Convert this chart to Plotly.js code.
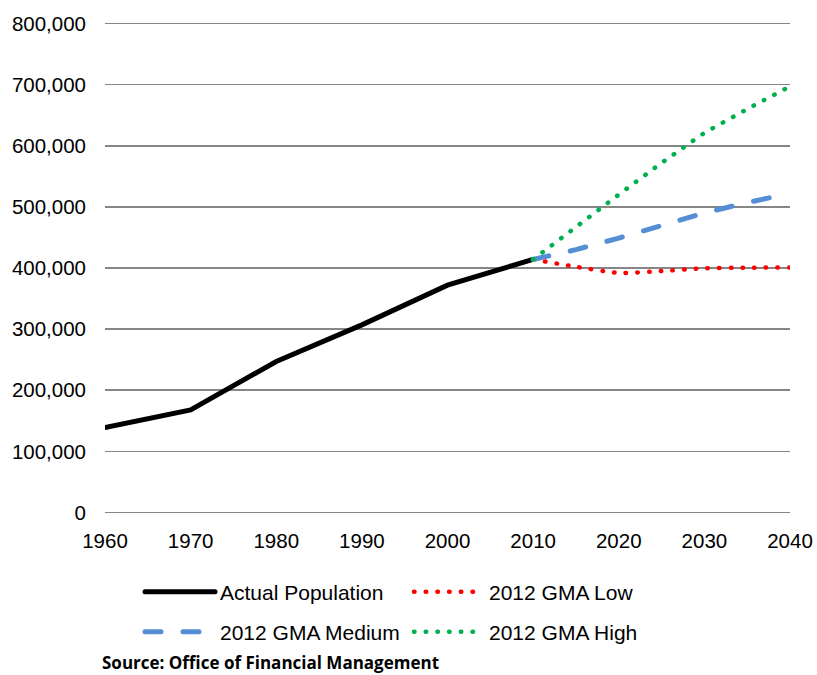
<!DOCTYPE html>
<html>
<head>
<meta charset="utf-8">
<script src="https://cdn.plot.ly/plotly-3.0.1.min.js"></script>
<style>
body { margin: 0; padding: 0; background: #fff; }
#chart { width: 817px; height: 675px; }
.js-line { stroke-linecap: round; }
</style>
</head>
<body>
<div id="chart"></div>
<script>
// Data
var actualYears = [1960, 1970, 1980, 1990, 2000, 2010];
var actualPop = [139000, 168000, 247000, 307000, 372000, 414000];

var projYears = [2010, 2015, 2020, 2025, 2030, 2035, 2040];
var gmaLow = [414000, 402000, 392000, 395000, 399500, 400500, 401000];
var gmaMedium = [414000, 430000, 449000, 470000, 490000, 507000, 522000];
var gmaHigh = [414000, 468000, 520000, 572000, 621000, 660000, 697000];

var seriesNames = ['Actual Population', '2012 GMA Low', '2012 GMA Medium', '2012 GMA High'];
var xTicks = [1960, 1970, 1980, 1990, 2000, 2010, 2020, 2030, 2040];
var yTicks = [0, 100000, 200000, 300000, 400000, 500000, 600000, 700000, 800000];
var sourceText = 'Source: Office of Financial Management';

var traces = [
  { x: actualYears, y: actualPop, name: seriesNames[0], mode: 'lines',
    line: { color: '#000000', width: 5 }, legend: 'legend' },
  { x: projYears, y: gmaLow, name: seriesNames[1], mode: 'lines',
    line: { color: '#FF0000', width: 4.5, dash: '0.5px,11.2px', shape: 'spline', smoothing: 0.6 }, legend: 'legend' },
  { x: projYears, y: gmaMedium, name: seriesNames[2], mode: 'lines',
    line: { color: '#558ED5', width: 5, dash: '16px,22px' }, legend: 'legend2' },
  { x: projYears, y: gmaHigh, name: seriesNames[3], mode: 'lines',
    line: { color: '#00B050', width: 4.5, dash: '0.5px,11.2px' }, legend: 'legend2' }
];

var fontFam = '"Liberation Sans", Arial, sans-serif';
var legendCommon = {
  orientation: 'h', xref: 'container', yref: 'container', xanchor: 'left', yanchor: 'middle',
  font: { family: fontFam, size: 21, color: '#000' }, itemwidth: 70,
  entrywidth: 184, entrywidthmode: 'pixels', bgcolor: 'rgba(0,0,0,0)', traceorder: 'normal',
  itemclick: false
};

var layout = {
  width: 817, height: 675,
  margin: { l: 105, r: 27, t: 20.5, b: 159.5 },
  paper_bgcolor: '#fff', plot_bgcolor: '#fff',
  font: { family: fontFam, size: 20, color: '#000' },
  showlegend: true,
  xaxis: {
    range: [1960, 2040], tickvals: xTicks, ticktext: xTicks.map(String),
    showgrid: false, zeroline: false, showline: false, ticks: '',
    ticklabelstandoff: 11, tickfont: { family: fontFam, size: 20.5, color: '#000' }, fixedrange: true
  },
  yaxis: {
    range: [-4000, 804000], tickvals: yTicks,
    ticktext: yTicks.map(function (v) { return v.toLocaleString('en-US'); }),
    showgrid: true, gridcolor: '#868686', gridwidth: 1.6, zeroline: false, showline: false, ticks: '',
    ticklabelstandoff: 18, tickfont: { family: fontFam, size: 20.5, color: '#000' }, fixedrange: true
  },
  legend: Object.assign({}, legendCommon, { x: 140 / 817, y: 1 - 592 / 675 }),
  legend2: Object.assign({}, legendCommon, { x: 140 / 817, y: 1 - 632 / 675 }),
  annotations: [{
    text: '<b>' + sourceText + '</b>', xref: 'paper', yref: 'paper',
    x: (100 - 105) / 685, y: (515.5 - 663) / 494.9, xanchor: 'left', yanchor: 'middle',
    showarrow: false, font: { family: '"Open Sans", sans-serif', size: 17, color: '#000' }
  }]
};

Plotly.newPlot('chart', traces, layout, { displayModeBar: false, staticPlot: true });
</script>
</body>
</html>
